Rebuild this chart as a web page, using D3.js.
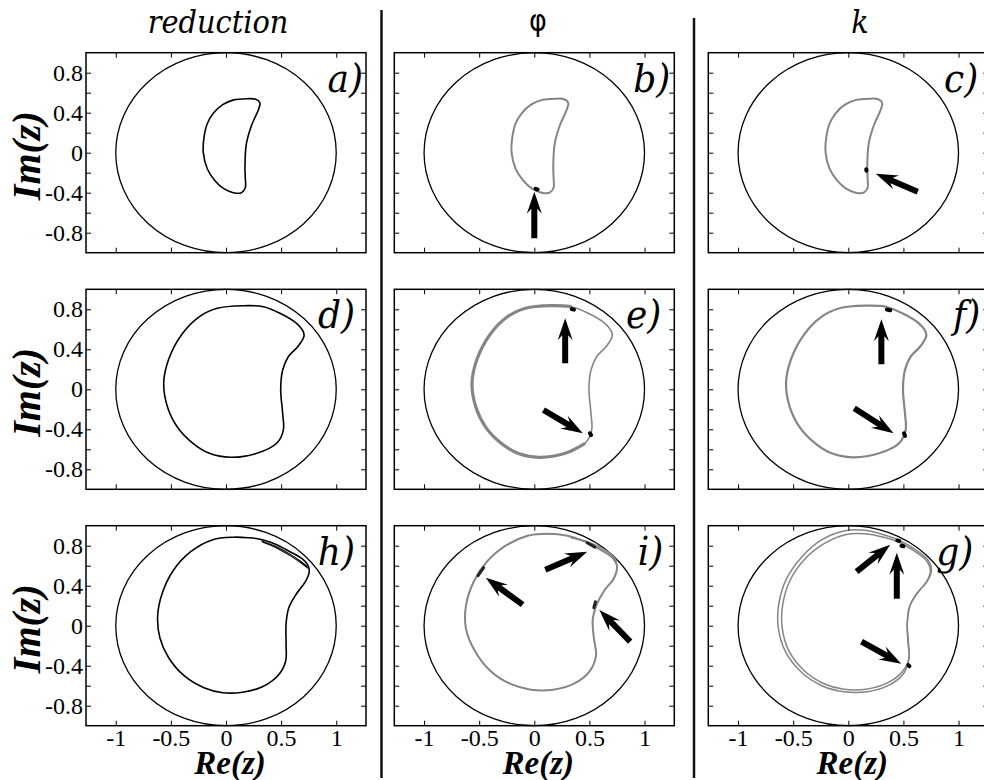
<!DOCTYPE html>
<html>
<head>
<meta charset="utf-8">
<script src="https://cdn.jsdelivr.net/npm/d3@7"></script>
<style>
body { margin: 0; background: #fff; }
svg { display: block; }
</style>
</head>
<body>
<div id="chart"></div>
<script>
// ---- data (Re, Im) ----
var crescent = [[0.308,0.50],[0.27,0.535],[0.19,0.54],[0.07,0.528],[-0.03,0.48],[-0.115,0.394],[-0.17,0.29],
  [-0.2,0.15],[-0.206,0.0],[-0.17,-0.16],[-0.1,-0.28],[-0.02,-0.36],[0.066,-0.40],[0.14,-0.40],[0.175,-0.35],
  [0.175,-0.25],[0.172,-0.14],[0.185,0.09],[0.233,0.277],[0.293,0.427]];

var kidney = [[0.64,0.66],[0.695,0.59],[0.708,0.535],[0.656,0.433],[0.565,0.326],[0.514,0.193],[0.496,0.0],
  [0.514,-0.24],[0.52,-0.41],[0.46,-0.54],[0.28,-0.64],[0.04,-0.68],[-0.15,-0.64],[-0.3,-0.54],[-0.44,-0.38],
  [-0.53,-0.18],[-0.565,0.06],[-0.52,0.3],[-0.4,0.55],[-0.25,0.72],[-0.08,0.81],[0.157,0.836],[0.34,0.826],[0.49,0.76]];

var loopH = [[0.755,0.54],[0.72,0.44],[0.64,0.32],[0.57,0.18],[0.545,0.02],[0.545,-0.18],[0.54,-0.36],[0.47,-0.5],
  [0.33,-0.61],[0.15,-0.665],[-0.03,-0.67],[-0.2,-0.62],[-0.38,-0.5],[-0.52,-0.32],[-0.6,-0.12],[-0.62,0.1],
  [-0.58,0.32],[-0.48,0.55],[-0.32,0.74],[-0.12,0.86],[0.07,0.885],[0.2,0.88],[0.31,0.865],[0.45,0.815],
  [0.58,0.74],[0.69,0.67],[0.74,0.61]];
var strandsH = [
  [[0.32,0.848],[0.45,0.795],[0.58,0.716],[0.68,0.642],[0.738,0.59]],
  [[0.33,0.838],[0.46,0.778],[0.585,0.698],[0.685,0.624],[0.742,0.575]]];

var loopI = [[0.75,0.6],[0.72,0.47],[0.64,0.36],[0.57,0.22],[0.53,0.06],[0.54,-0.12],[0.56,-0.3],[0.5,-0.46],
  [0.36,-0.58],[0.17,-0.64],[-0.03,-0.64],[-0.22,-0.58],[-0.4,-0.45],[-0.54,-0.25],[-0.62,-0.03],[-0.62,0.2],
  [-0.55,0.44],[-0.43,0.64],[-0.26,0.8],[-0.06,0.9],[0.12,0.92],[0.3,0.9],[0.46,0.84],[0.6,0.76],[0.71,0.68]];
var strandsI = [[[0.33,0.88],[0.47,0.845],[0.6,0.782],[0.7,0.71],[0.752,0.64]]];

var loopGOuter = [[0.755,0.56],[0.72,0.45],[0.63,0.33],[0.56,0.2],[0.535,0.03],[0.54,-0.15],[0.55,-0.33],
  [0.5,-0.48],[0.36,-0.6],[0.17,-0.66],[-0.04,-0.66],[-0.24,-0.6],[-0.43,-0.46],[-0.57,-0.26],[-0.635,-0.02],
  [-0.63,0.22],[-0.56,0.47],[-0.42,0.69],[-0.24,0.86],[-0.03,0.95],[0.15,0.955],[0.32,0.91],[0.47,0.85],
  [0.61,0.76],[0.72,0.66]];
var loopGInner = [[0.745,0.55],[0.71,0.44],[0.62,0.32],[0.555,0.19],[0.535,0.02],[0.545,-0.16],[0.55,-0.33],
  [0.49,-0.46],[0.35,-0.575],[0.16,-0.635],[-0.04,-0.635],[-0.22,-0.58],[-0.4,-0.45],[-0.54,-0.25],[-0.6,-0.02],
  [-0.595,0.21],[-0.53,0.45],[-0.4,0.66],[-0.22,0.82],[-0.03,0.91],[0.15,0.92],[0.32,0.885],[0.47,0.83],
  [0.6,0.745],[0.71,0.65]];

// dark marks sitting on the trajectories
var marksB = [[[0.012,-0.362],[0.03,-0.368]]];
var marksC = [[[0.163,-0.165],[0.165,-0.18]]];
var marksE = [[[0.34,0.802],[0.36,0.797]], [[0.505,-0.44],[0.515,-0.458]]];
var marksF = [[[0.35,0.797],[0.38,0.79]], [[0.505,-0.44],[0.515,-0.465]]];
var marksI = [[[-0.51,0.5],[-0.46,0.58]], [[0.48,0.83],[0.55,0.785]], [[0.54,0.18],[0.555,0.24]]];
var marksG = [[[0.445,0.852],[0.462,0.848]], [[0.482,0.8],[0.5,0.795]], [[0.545,-0.395],[0.555,-0.405]]];

// arrows: [tail, tip]
var arrowsB = [[[0.0,-0.856],[0.0,-0.39]]];
var arrowsC = [[[0.63,-0.39],[0.25,-0.21]]];
var arrowsE = [[[0.28,0.26],[0.28,0.71]], [[0.083,-0.207],[0.44,-0.44]]];
var arrowsF = [[[0.30,0.25],[0.30,0.70]], [[0.054,-0.19],[0.41,-0.44]]];
var arrowsI = [[[-0.106,0.21],[-0.44,0.48]], [[0.10,0.56],[0.48,0.74]], [[0.87,-0.16],[0.59,0.157]]];
var arrowsG = [[[0.075,0.54],[0.38,0.81]], [[0.44,0.27],[0.44,0.73]], [[0.12,-0.16],[0.48,-0.38]]];

var xTicks = [-1, -0.5, 0, 0.5, 1];
var yTicks = [-0.8, -0.6, -0.4, -0.2, 0, 0.2, 0.4, 0.6, 0.8];
var yTickLabels = [-0.8, -0.4, 0, 0.4, 0.8];
var columnTitles = ["reduction", "\u03c6", "k"];
var panelLabels = ["a)", "b)", "c)", "d)", "e)", "f)", "h)", "i)", "g)"];

// ---- layout ----
var w = 984, h = 780;
var colLeft = [86, 394.3, 708.3];
var rowTop = [52.7, 289.3, 525.7];
var pw = 280, ph = 200;
var labelInset = [3, 4, 10, 11, 13, 8, 11, 11, 15];
var black = "#000", grey = "#858585";

var panels = [
  { curves: [{ pts: crescent, closed: true, color: black, width: 1.6 }], marks: [], arrows: [] },
  { curves: [{ pts: crescent, closed: true, color: grey, width: 2 }], marks: marksB, arrows: arrowsB },
  { curves: [{ pts: crescent, closed: true, color: grey, width: 2 }], marks: marksC, arrows: arrowsC },
  { curves: [{ pts: kidney, closed: true, color: black, width: 1.6 }], marks: [], arrows: [] },
  { curves: [{ pts: kidney, closed: true, color: grey, width: 1.6 },
             { pts: kidney.slice(9, 23), closed: false, color: grey, width: 3.2 }], marks: marksE, arrows: arrowsE },
  { curves: [{ pts: kidney, closed: true, color: grey, width: 2.2 }], marks: marksF, arrows: arrowsF },
  { curves: [{ pts: loopH, closed: true, color: black, width: 1.6 }]
      .concat(strandsH.map(s => ({ pts: s, closed: false, color: black, width: 1.1 }))), marks: [], arrows: [] },
  { curves: [{ pts: loopI, closed: true, color: grey, width: 2 }]
      .concat(strandsI.map(s => ({ pts: s, closed: false, color: grey, width: 1.5 }))), marks: marksI, arrows: arrowsI },
  { curves: [{ pts: loopGOuter, closed: true, color: grey, width: 1.5 },
             { pts: loopGInner, closed: true, color: grey, width: 1.5 }], marks: marksG, arrows: arrowsG }
];
var markWidth = [0, 4, 4, 0, 4, 4, 0, 3, 4];

var svg = d3.select("#chart").append("svg")
  .attr("width", w)
  .attr("height", h);

// column separators
svg.append("line").attr("x1", 381.5).attr("x2", 381.5).attr("y1", 10).attr("y2", 778)
  .attr("stroke", "#111").attr("stroke-width", 2.5);
svg.append("line").attr("x1", 694).attr("x2", 694).attr("y1", 18).attr("y2", 778)
  .attr("stroke", "#111").attr("stroke-width", 2.5);

// column titles
var titleX = [218, 538, 860];
columnTitles.forEach(function(t, i) {
  svg.append("text")
    .attr("x", titleX[i]).attr("y", i == 1 ? 31 : 33)
    .attr("text-anchor", "middle")
    .style("font-family", i == 1 ? "'DejaVu Sans'" : "'DejaVu Serif'")
    .style("font-style", i == 1 ? "normal" : "italic")
    .style("font-stretch", "condensed")
    .style("font-size", i == 1 ? "30px" : "32px")
    .text(t);
});

// arrow outline from tail to tip, in pixels
function arrowPath(t, p) {
  var dx = p[0] - t[0], dy = p[1] - t[1];
  var len = Math.sqrt(dx * dx + dy * dy);
  var ux = dx / len, uy = dy / len, nx = -uy, ny = ux;
  var sw = 3, hw = 7.5, hl = 22, notch = 5;
  var pts = [
    [t[0] + nx * sw, t[1] + ny * sw],
    [p[0] - ux * (hl - notch) + nx * sw, p[1] - uy * (hl - notch) + ny * sw],
    [p[0] - ux * hl + nx * hw, p[1] - uy * hl + ny * hw],
    [p[0], p[1]],
    [p[0] - ux * hl - nx * hw, p[1] - uy * hl - ny * hw],
    [p[0] - ux * (hl - notch) - nx * sw, p[1] - uy * (hl - notch) - ny * sw],
    [t[0] - nx * sw, t[1] - ny * sw]
  ];
  return "M" + pts.map(q => q.join(",")).join("L") + "Z";
}

panels.forEach(function(pan, k) {
  var row = Math.floor(k / 3), col = k % 3;
  var left = colLeft[col], top = rowTop[row];

  var xScale = d3.scaleLinear().domain([-1.27, 1.27]).range([left, left + pw]);
  var yScale = d3.scaleLinear().domain([-1, 1]).range([top + ph, top]);

  var g = svg.append("g");

  // unit circle
  g.append("ellipse")
    .attr("cx", xScale(0)).attr("cy", yScale(0))
    .attr("rx", xScale(1) - xScale(0)).attr("ry", yScale(0) - yScale(1))
    .attr("fill", "none").attr("stroke", "#000").attr("stroke-width", 1.3);

  var lineClosed = d3.line().x(d => xScale(d[0])).y(d => yScale(d[1])).curve(d3.curveCatmullRomClosed);
  var lineOpen = d3.line().x(d => xScale(d[0])).y(d => yScale(d[1])).curve(d3.curveCatmullRom);

  pan.curves.forEach(function(c) {
    g.append("path")
      .attr("d", c.closed ? lineClosed(c.pts) : lineOpen(c.pts))
      .attr("fill", "none")
      .attr("stroke", c.color)
      .attr("stroke-width", c.width)
      .attr("stroke-linejoin", "round");
  });

  pan.marks.forEach(function(m) {
    g.append("path")
      .attr("d", lineOpen(m))
      .attr("fill", "none")
      .attr("stroke", k == 7 ? "#222" : "#000")
      .attr("stroke-width", markWidth[k])
      .attr("stroke-linecap", "round");
  });

  pan.arrows.forEach(function(a) {
    g.append("path")
      .attr("d", arrowPath([xScale(a[0][0]), yScale(a[0][1])], [xScale(a[1][0]), yScale(a[1][1])]))
      .attr("fill", "#000");
  });

  // axes with inward ticks on all four sides
  var showX = row == 2, showY = col == 0;
  g.append("g").attr("transform", `translate(0,${top + ph})`)
    .call(d3.axisBottom(xScale).tickValues(xTicks).tickSize(-5).tickPadding(3)
      .tickFormat(d => showX ? String(d) : ""));
  g.append("g").attr("transform", `translate(0,${top})`)
    .call(d3.axisTop(xScale).tickValues(xTicks).tickSize(-5).tickFormat(""));
  g.append("g").attr("transform", `translate(${left},0)`)
    .call(d3.axisLeft(yScale).tickValues(yTicks).tickSize(-5).tickPadding(3)
      .tickFormat(d => showY && yTickLabels.includes(d) ? String(d) : ""));
  g.append("g").attr("transform", `translate(${left + pw},0)`)
    .call(d3.axisRight(yScale).tickValues(yTicks).tickSize(-5).tickFormat(""));

  g.selectAll(".domain").remove();
  g.selectAll(".tick line").attr("stroke", "#000").attr("stroke-width", 1);
  g.selectAll(".tick text")
    .style("font-family", "'Liberation Serif'")
    .style("font-size", "24px")
    .attr("fill", "#000");

  // frame
  g.append("rect")
    .attr("x", left).attr("y", top).attr("width", pw).attr("height", ph)
    .attr("fill", "none").attr("stroke", "#000").attr("stroke-width", 1.5);

  // panel letter
  g.append("text")
    .attr("x", left + pw - labelInset[k]).attr("y", top + 39)
    .attr("text-anchor", "end")
    .style("font-family", "'DejaVu Serif'")
    .style("font-style", "italic")
    .style("font-stretch", "condensed")
    .style("font-size", "40px")
    .text(panelLabels[k]);

  if (showY) {
    g.append("text")
      .attr("transform", `translate(40,${top + ph / 2 + 3}) rotate(-90)`)
      .attr("text-anchor", "middle")
      .style("font-family", "'Liberation Serif'")
      .style("font-style", "italic")
      .style("font-weight", "bold")
      .style("font-size", "40px")
      .text("Im(z)");
  }
  if (showX) {
    g.append("text")
      .attr("x", left + pw / 2 + 4).attr("y", 774)
      .attr("text-anchor", "middle")
      .style("font-family", "'Liberation Serif'")
      .style("font-style", "italic")
      .style("font-weight", "bold")
      .style("font-size", "33px")
      .text("Re(z)");
  }
});
</script>
</body>
</html>
